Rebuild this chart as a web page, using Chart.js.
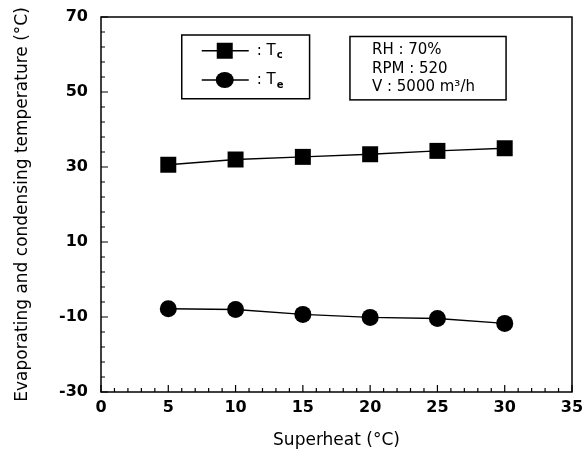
<!DOCTYPE html>
<html>
<head>
<meta charset="utf-8">
<script src="https://cdn.jsdelivr.net/npm/chart.js@4"></script>
<style>
  html, body { margin: 0; padding: 0; background: #fff; }
  #wrap { width: 588px; height: 460px; }
</style>
</head>
<body>
<div id="wrap"><canvas id="tempChart"></canvas></div>
<script>
// data
const superheat = [5, 10, 15, 20, 25, 30];
const condensingTemp = [30.6, 32.0, 32.7, 33.4, 34.3, 35.0];
const evaporatingTemp = [-7.8, -8.0, -9.3, -10.1, -10.4, -11.7];
const infoLines = ['RH : 70%', 'RPM : 520', 'V : 5000 m\u00B3/h'];

const FONT = '"DejaVu Sans", sans-serif';

// inner ticks, frame and the two boxes
const framePlugin = {
    id: 'framePlugin',
    afterDraw(chart) {
        const c = chart.ctx;
        const a = chart.chartArea;
        const xs = chart.scales.x;
        const ys = chart.scales.y;
        c.save();
        c.strokeStyle = '#000';
        c.lineWidth = 1.5;
        c.strokeRect(a.left, a.top, a.right - a.left, a.bottom - a.top);

        c.lineWidth = 1.2;
        c.beginPath();
        for (let v = 0; v <= 35; v += 1) {
            const px = xs.getPixelForValue(v);
            const len = v % 5 === 0 ? 7 : 4;
            c.moveTo(px, a.bottom);
            c.lineTo(px, a.bottom - len);
        }
        for (let v = -30; v <= 70; v += 4) {
            const py = ys.getPixelForValue(v);
            const len = (v + 30) % 20 === 0 ? 7 : 4;
            c.moveTo(a.left, py);
            c.lineTo(a.left + len, py);
        }
        c.stroke();

        // legend box
        const lx = xs.getPixelForValue(6.0), rx = xs.getPixelForValue(15.5);
        const ty = ys.getPixelForValue(65.2), by = ys.getPixelForValue(48.2);
        c.lineWidth = 1.5;
        c.strokeRect(lx, ty, rx - lx, by - ty);
        const rows = [
            { y: ys.getPixelForValue(61), sub: 'c', rect: true },
            { y: ys.getPixelForValue(53.2), sub: 'e', rect: false }
        ];
        rows.forEach(r => {
            c.lineWidth = 1.5;
            c.beginPath();
            c.moveTo(lx + 20, r.y);
            c.lineTo(lx + 67, r.y);
            c.stroke();
            c.fillStyle = '#000';
            c.beginPath();
            if (r.rect) {
                c.rect(lx + 35, r.y - 8, 16, 16);
            } else {
                c.ellipse(lx + 43, r.y, 9, 8, 0, 0, Math.PI * 2);
            }
            c.fill();
            c.font = '15px ' + FONT;
            c.textBaseline = 'middle';
            c.textAlign = 'left';
            c.fillText(': T', lx + 75, r.y);
            const w = c.measureText(': T').width;
            c.font = 'bold 10px ' + FONT;
            c.fillText(r.sub, lx + 75 + w + 1, r.y + 5);
        });

        // condition box
        const ix = xs.getPixelForValue(18.5), irx = xs.getPixelForValue(30.1);
        const iy = ys.getPixelForValue(64.8), iby = ys.getPixelForValue(47.9);
        c.strokeRect(ix, iy, irx - ix, iby - iy);
        c.font = '15px ' + FONT;
        c.textBaseline = 'middle';
        infoLines.forEach((t, i) => {
            c.fillText(t, ix + 22, iy + 14 + i * 18.5);
        });
        c.restore();
    }
};

document.addEventListener('DOMContentLoaded', function () {
    const ctx = document.getElementById('tempChart');

    new Chart(ctx, {
        type: 'line',
        data: {
            labels: superheat,
            datasets: [
                {
                    label: 'Tc',
                    data: superheat.map((x, i) => ({ x: x, y: condensingTemp[i] })),
                    borderColor: '#000',
                    backgroundColor: '#000',
                    borderWidth: 1.5,
                    pointStyle: 'rect',
                    pointRadius: 11.3,
                    pointBorderWidth: 0
                },
                {
                    label: 'Te',
                    data: superheat.map((x, i) => ({ x: x, y: evaporatingTemp[i] })),
                    borderColor: '#000',
                    backgroundColor: '#000',
                    borderWidth: 1.5,
                    pointStyle: 'circle',
                    pointRadius: 8.5,
                    pointBorderWidth: 0
                }
            ]
        },
        options: {
            responsive: true,
            maintainAspectRatio: false,
            animation: false,
            layout: { padding: { top: 17, right: 16, left: 0, bottom: 0 } },
            plugins: {
                legend: { display: false },
                tooltip: { enabled: false }
            },
            scales: {
                x: {
                    type: 'linear',
                    min: 0,
                    max: 35,
                    ticks: {
                        stepSize: 5,
                        color: '#000',
                        padding: 6,
                        font: { family: FONT, size: 16, weight: 'bold' }
                    },
                    grid: { display: false, drawTicks: false },
                    border: { display: false },
                    title: {
                        display: true,
                        text: 'Superheat (\u00B0C)',
                        color: '#000',
                        padding: { top: 0, bottom: 9 },
                        font: { family: FONT, size: 17 }
                    },
                    afterFit(scale) {
                        scale.height = 68;
                        scale.paddingRight = 0;
                    }
                },
                y: {
                    min: -30,
                    max: 70,
                    ticks: {
                        stepSize: 20,
                        color: '#000',
                        padding: 13,
                        font: { family: FONT, size: 16, weight: 'bold' }
                    },
                    grid: { display: false, drawTicks: false },
                    border: { display: false },
                    title: {
                        display: true,
                        text: 'Evaporating and condensing temperature (\u00B0C)',
                        color: '#000',
                        padding: { top: 12, bottom: 0 },
                        font: { family: FONT, size: 17 }
                    },
                    afterFit(scale) {
                        scale.width = 101;
                        scale.paddingTop = 0;
                        scale.paddingBottom = 0;
                    }
                }
            }
        },
        plugins: [framePlugin]
    });
});
</script>
</body>
</html>
